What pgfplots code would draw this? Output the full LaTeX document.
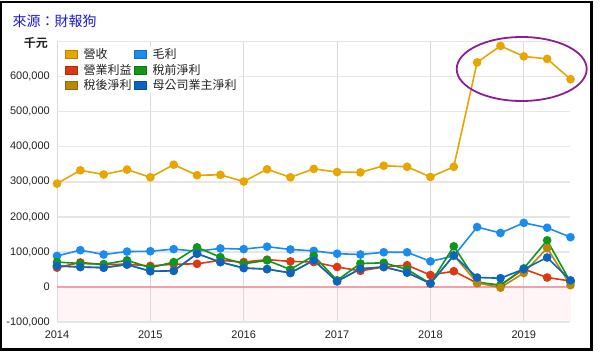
\documentclass[border=0pt]{standalone}
\usepackage{pgfplots}
\pgfplotsset{compat=1.18}
\usepackage{pgfplotstable}
\usepackage{fontspec}
\setmainfont{Liberation Sans}
\newfontfamily\cjk{Noto Sans CJK TC}[BoldFont={Noto Sans CJK TC Bold}]
\definecolor{cRev}{HTML}{E8A500}
\definecolor{cGP}{HTML}{1A8CF0}
\definecolor{cOP}{HTML}{DC3912}
\definecolor{cPBT}{HTML}{109618}
\definecolor{cNI}{HTML}{B8860B}
\definecolor{cNP}{HTML}{0B64C0}
\definecolor{srcblue}{HTML}{1A1ACC}
\definecolor{gridc}{HTML}{E6E6E6}
\definecolor{vgridc}{HTML}{DADADA}
\definecolor{pinkbg}{HTML}{FFF5F7}
\definecolor{pinkline}{HTML}{F0A0AA}
\definecolor{ellc}{HTML}{8B1F8F}
\definecolor{labc}{HTML}{222222}
\pgfplotstableread{
x rev gp op pbt ni np
2014.00 295000 88600 55000 71000 60000 60000
2014.25 333000 105000 70000 67000 57000 57000
2014.50 321000 92600 64000 65000 55000 55000
2014.75 335000 101000 65000 76000 64000 64000
2015.00 313000 102000 60000 55000 45000 45000
2015.25 349000 108000 65000 71000 46000 46000
2015.50 319000 102000 66000 113000 95000 95000
2015.75 320000 110000 76000 85000 71000 71000
2016.00 301000 108000 71000 66000 54000 54000
2016.25 336000 115000 78000 76000 51000 51000
2016.50 313000 107000 73000 50000 40000 40000
2016.75 337000 103000 71000 89000 76000 76000
2017.00 328000 95000 57000 19000 16000 16000
2017.25 327000 92600 46000 67000 52000 52000
2017.50 346000 99000 57000 69000 57000 57000
2017.75 343000 99000 62000 50000 41000 41000
2018.00 314000 73000 34000 10000 10000 10000
2018.25 343000 88600 45000 116000 90000 90000
2018.50 641000 171000 11000 14000 12000 27000
2018.75 688000 154000 5000 5000 -2000 25000
2019.00 658000 183000 51000 53000 40000 51000
2019.25 651000 169000 27000 133000 111000 84000
2019.50 593000 142000 17000 14000 5000 19000
}\data
\begin{document}
\begin{tikzpicture}[x=1pt,y=1pt]
\useasboundingbox (0,0) rectangle (600,354);
\fill[pinkbg] (57,32) rectangle (570.5,67);
\begin{axis}[
  scale only axis, width=513.5pt, height=280.3pt,
  at={(57pt,32pt)}, anchor=south west,
  xmin=2014, xmax=2019.5, ymin=-100000, ymax=700000,
  clip=false,
  axis line style={draw=none}, major tick length=0pt,
  xtick={2014,2015,2016,2017,2018,2019},
  xticklabels={2014,2015,2016,2017,2018,2019},
  ytick={-100000,0,100000,200000,300000,400000,500000,600000},
  yticklabels={{-100,000},0,{100,000},{200,000},{300,000},{400,000},{500,000},{600,000}},
  scaled y ticks=false,
  extra y ticks={700000}, extra y tick labels={},
  extra tick style={grid=major, major grid style={gridc, line width=1.3pt}},
  grid=major,
  major x grid style={vgridc, line width=0.8pt},
  major y grid style={gridc, line width=1.3pt},
  tick label style={font=\fontsize{11}{13}\selectfont, text=labc},
  xticklabel style={anchor=north, inner sep=0pt, yshift=-9pt},
  yticklabel style={anchor=east, inner sep=0pt, xshift=-7pt},
  legend columns=2,
  legend style={draw=none, fill=white, at={(0.0136,0.983)}, anchor=north west,
    font=\cjk\fontsize{12}{14.5}\selectfont, text=labc, inner sep=1pt,
    nodes={inner sep=1pt, anchor=west}, row sep=2pt,
    /tikz/every odd column/.style={column sep=5pt},
    /tikz/every even column/.style={column sep=1.5pt}},
  every axis plot/.append style={line width=1.6pt, mark=*, mark size=3.5pt, mark options={solid}},
]
\draw[pinkline, line width=1.2pt] (axis cs:2014,0) -- (axis cs:2019.5,0);
\addplot[cRev, legend image code/.code={\draw[fill=cRev, draw=cRev!80!black, line width=0.5pt] (0pt,-4pt) rectangle (12pt,4pt);}] table[x=x,y=rev]{\data};
\addlegendentry{營收}
\addplot[cGP, legend image code/.code={\draw[fill=cGP, draw=cGP!80!black, line width=0.5pt] (0pt,-4pt) rectangle (12pt,4pt);}] table[x=x,y=gp]{\data};
\addlegendentry{毛利}
\addplot[cOP, legend image code/.code={\draw[fill=cOP, draw=cOP!80!black, line width=0.5pt] (0pt,-4pt) rectangle (12pt,4pt);}] table[x=x,y=op]{\data};
\addlegendentry{營業利益}
\addplot[cPBT, legend image code/.code={\draw[fill=cPBT, draw=cPBT!80!black, line width=0.5pt] (0pt,-4pt) rectangle (12pt,4pt);}] table[x=x,y=pbt]{\data};
\addlegendentry{稅前淨利}
\addplot[cNI, legend image code/.code={\draw[fill=cNI, draw=cNI!80!black, line width=0.5pt] (0pt,-4pt) rectangle (12pt,4pt);}] table[x=x,y=ni]{\data};
\addlegendentry{稅後淨利}
\addplot[cNP, legend image code/.code={\draw[fill=cNP, draw=cNP!80!black, line width=0.5pt] (0pt,-4pt) rectangle (12pt,4pt);}] table[x=x,y=np]{\data};
\addlegendentry{母公司業主淨利}
\end{axis}
\draw[ellc, line width=1.8pt] (521.7,285) ellipse [x radius=65, y radius=32];
\node[anchor=east, inner sep=0pt, text=labc, font=\cjk\bfseries\fontsize{12}{14}\selectfont] at (48,310.7) {千元};
\node[anchor=west, inner sep=0pt, text=srcblue, font=\cjk\fontsize{14}{16}\selectfont] at (12.5,333) {來源：財報狗};
\draw[line width=1.5pt] (1,352) rectangle (591.5,5.5);
\draw[line width=3pt] (591.5,352.5) -- (591.5,4.5) -- (0.25,4.5);
\end{tikzpicture}
\end{document}
